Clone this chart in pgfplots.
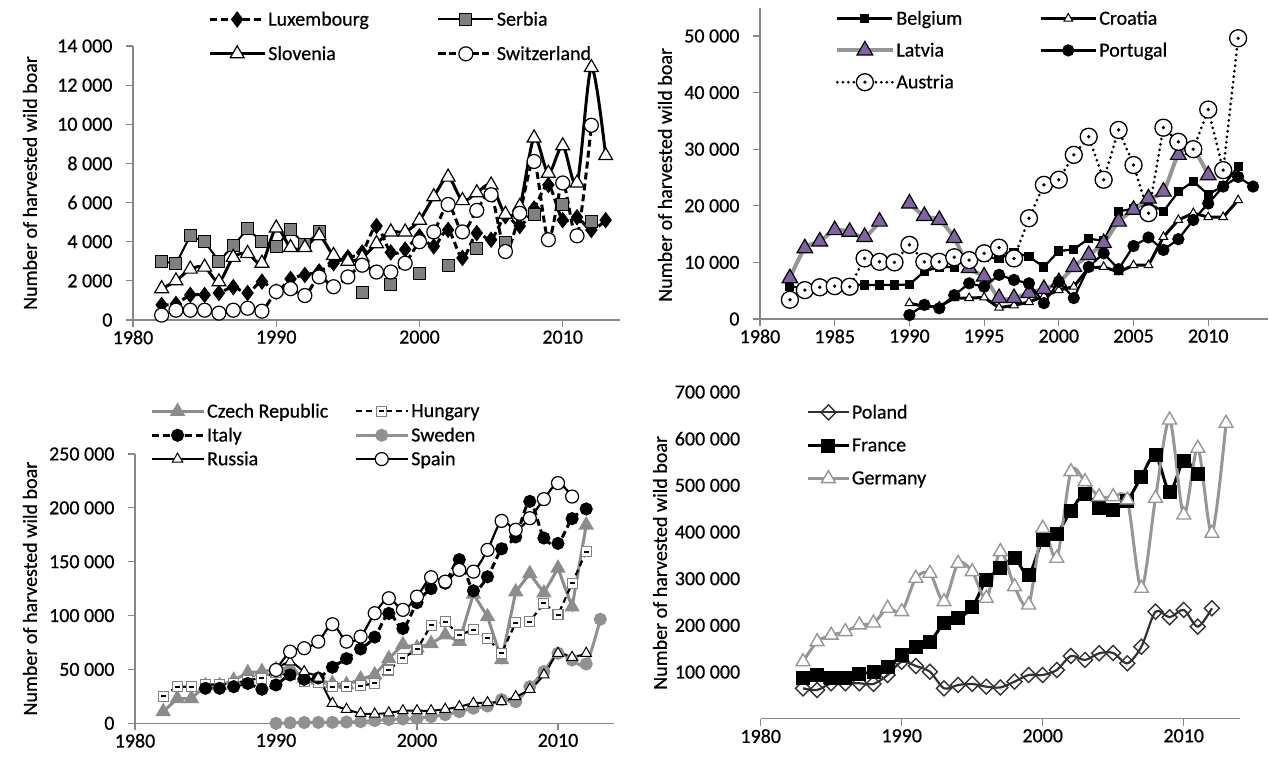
\documentclass[border=0pt]{standalone}
\usepackage{fontspec}
\setmainfont{Carlito}[FakeBold=0.6]
\usepackage{pgfplots}
\pgfplotsset{compat=1.18}

\definecolor{axgray}{RGB}{134,134,134}
\definecolor{sergray}{RGB}{128,128,128}
\definecolor{latgray}{RGB}{150,150,150}
\definecolor{latpurple}{RGB}{128,100,162}
\definecolor{czgray}{RGB}{140,140,140}
\definecolor{swgray}{RGB}{145,145,145}
\definecolor{gegray}{RGB}{150,150,150}
\definecolor{pldark}{RGB}{50,50,50}

\pgfdeclareplotmark{dotcircle}{%
  \pgfpathcircle{\pgfpointorigin}{\pgfplotmarksize}%
  \pgfsetfillcolor{white}\pgfusepathqfillstroke
  \pgfpathcircle{\pgfpointorigin}{0.22\pgfplotmarksize}%
  \pgfsetfillcolor{black}\pgfusepathqfill}
\pgfdeclareplotmark{dotsquare}{%
  \pgfpathrectangle{\pgfqpoint{-\pgfplotmarksize}{-\pgfplotmarksize}}{\pgfqpoint{2\pgfplotmarksize}{2\pgfplotmarksize}}%
  \pgfsetfillcolor{white}\pgfusepathqfillstroke
  \pgfpathrectangle{\pgfqpoint{-0.5\pgfplotmarksize}{-0.2\pgfplotmarksize}}{\pgfqpoint{1\pgfplotmarksize}{0.4\pgfplotmarksize}}%
  \pgfsetfillcolor{black}\pgfusepathqfill}

\pgfplotsset{
  panel/.style={
    scale only axis, anchor=south west, clip=false,
    axis x line=bottom, axis y line=left,
    axis line style={-, draw=axgray, line width=1.3pt},
    tick style={draw=axgray, line width=1.2pt},
    major tick length=7pt, tick align=outside,
    tick label style={font=\fontsize{20}{24}\selectfont, text=black},
    ylabel style={font=\fontsize{20}{24}\selectfont, anchor=center},
    /pgf/number format/assume math mode=true,
    yticklabel style={/pgf/number format/fixed, /pgf/number format/1000 sep={\ }, xshift=-10pt},
    xticklabel style={/pgf/number format/1000 sep={}},
    scaled ticks=false,
    xmin=1980, xmax=2014, ymin=0,
    unbounded coords=jump,
    legend cell align=left,
    legend style={draw=none, fill=none, inner sep=0pt, anchor=north west,
      font=\fontsize{20}{24}\selectfont, nodes={inner sep=2pt}},
    ylabel={Number of harvested wild boar},
  },
  leg/.style={legend image code/.code={\draw[mark repeat=2,mark phase=2,##1] plot coordinates {(0pt,0pt) (#1/2,0pt) (#1,0pt)};}},
}

\begin{document}
\begin{tikzpicture}[x=1pt,y=1pt]
\useasboundingbox (0,0) rectangle (1269,762);

% ---------------- top left ----------------
\begin{axis}[panel, at={(133pt,442pt)}, width=487pt, height=274pt,
  ymax=14000, ytick={0,2000,...,14000}, xtick={1980,1990,2000,2010},
  ylabel style={at={(axis description cs:-0.2115,0.5)}},
  leg=55pt, legend columns=2,
  legend style={at={(axis description cs:0.154,1.133)}, row sep=15pt,
    /tikz/every even column/.append style={column sep=66pt}}]
\addplot[black, line width=3pt, dash pattern=on 7pt off 4pt, smooth, mark=diamond*, mark size=7.5pt,
  mark options={solid, fill=black, line width=1pt}] coordinates {
(1982,770)(1983,820)(1984,1280)(1985,1280)(1986,1380)(1987,1680)(1988,1380)(1989,1960)
(1990,1450)(1991,2100)(1992,2300)(1993,2480)(1994,2900)(1995,3200)(1996,3450)(1997,4800)
(1998,3450)(1999,3600)(2000,4270)(2001,3760)(2002,4600)(2003,3170)(2004,4440)(2005,4100)
(2006,5300)(2007,4800)(2008,5700)(2009,6900)(2010,5100)(2011,5250)(2012,4600)(2013,5100)};
\addlegendentry{Luxembourg}
\addplot[black, line width=2pt, mark=square*, mark size=6pt,
  mark options={fill=sergray, draw=black, line width=1pt}] coordinates {
(1982,3000)(1983,2870)(1984,4300)(1985,4000)(1986,3000)(1987,3800)(1988,4650)(1989,4000)
(1990,3750)(1991,4600)(1992,3850)(1993,4500)(1994,nan)
(1996,1400)(1997,nan)(1998,1800)(1999,nan)(2000,2350)(2001,nan)(2002,2780)(2003,nan)
(2004,3670)(2005,nan)(2006,3950)(2007,nan)(2008,5370)(2009,nan)(2010,5890)(2011,nan)(2012,5030)};
\addlegendentry{Serbia}
\addplot[black, line width=3pt, smooth, mark=triangle*, mark size=8pt,
  mark options={fill=white, line width=1.2pt}] coordinates {
(1982,1600)(1983,2000)(1984,2600)(1985,2700)(1986,1950)(1987,3200)(1988,3400)(1989,2900)
(1990,4700)(1991,3700)(1992,3700)(1993,4300)(1994,3300)(1995,3000)(1996,3200)(1997,3900)
(1998,4500)(1999,4500)(2000,5100)(2001,6300)(2002,7300)(2003,6100)(2004,6500)(2005,6900)
(2006,5400)(2007,5800)(2008,9300)(2009,7500)(2010,8900)(2011,7000)(2012,12900)(2013,8400)};
\addlegendentry{Slovenia}
\addplot[black, line width=3pt, dash pattern=on 7pt off 4pt, smooth, mark=*, mark size=7pt,
  mark options={solid, fill=white, line width=1.2pt}] coordinates {
(1982,250)(1983,500)(1984,500)(1985,500)(1986,350)(1987,500)(1988,600)(1989,450)
(1990,1450)(1991,1600)(1992,1250)(1993,2200)(1994,1700)(1995,2200)(1996,2800)(1997,2450)
(1998,2450)(1999,2900)(2000,4000)(2001,4500)(2002,5900)(2003,4500)(2004,5600)(2005,6400)
(2006,3500)(2007,5450)(2008,8100)(2009,4100)(2010,7000)(2011,4300)(2012,9950)};
\addlegendentry{Switzerland}
\end{axis}

% ---------------- top right ----------------
\begin{axis}[panel, at={(760pt,443pt)}, width=508pt, height=311.3pt,
  ymax=55000, ytick={0,10000,...,50000}, xtick={1980,1985,...,2010},
  ylabel style={at={(axis description cs:-0.187,0.463)}},
  leg=55pt, legend columns=2,
  legend style={at={(axis description cs:0.148,0.997)}, row sep=12.5pt,
    /tikz/every even column/.append style={column sep=75pt}}]
\addplot[black, line width=2.2pt, mark=square*, mark size=3.5pt] coordinates {
(1982,5800)(1983,5400)(1984,5800)(1985,6300)(1986,6100)(1987,6000)(1988,6000)(1989,6000)
(1990,6100)(1991,8400)(1992,9200)(1993,9200)(1994,11000)(1995,10900)(1996,10700)(1997,11800)
(1998,11000)(1999,9200)(2000,12000)(2001,12300)(2002,14200)(2003,13800)(2004,19000)(2005,19500)
(2006,20500)(2007,19000)(2008,22500)(2009,24300)(2010,22000)(2011,23500)(2012,27000)};
\addlegendentry{Belgium}
\addplot[black, line width=3pt, mark=triangle*, mark size=5pt,
  mark options={fill=white, line width=1pt}] coordinates {
(1990,2800)(1991,2200)(1992,2200)(1993,3700)(1994,3700)(1995,3800)(1996,2000)(1997,2400)
(1998,3000)(1999,4000)(2000,5100)(2001,5700)(2002,9000)(2003,9200)(2004,8300)(2005,9500)
(2006,9500)(2007,14500)(2008,17500)(2009,18700)(2010,18000)(2011,18000)(2012,21000)};
\addlegendentry{Croatia}
\addplot[latgray, line width=4pt, smooth, mark=triangle*, mark size=9pt,
  mark options={fill=latpurple, draw=black, line width=1.2pt}] coordinates {
(1982,7200)(1983,12500)(1984,13700)(1985,15700)(1986,15400)(1987,14500)(1988,17200)(1989,nan)
(1990,20400)(1991,18200)(1992,17500)(1993,14300)(1994,9000)(1995,7500)(1996,3700)(1997,3700)
(1998,4600)(1999,5300)(2000,6500)(2001,9200)(2002,11300)(2003,13400)(2004,17200)(2005,19300)
(2006,21300)(2007,22500)(2008,29000)(2009,29900)(2010,25400)};
\addlegendentry{Latvia}
\addplot[black, line width=2.2pt, mark=*, mark size=5pt] coordinates {
(1990,700)(1991,2500)(1992,1900)(1993,4200)(1994,6300)(1995,5700)(1996,7800)(1997,6900)
(1998,6300)(1999,2800)(2000,6600)(2001,3700)(2002,9200)(2003,11600)(2004,8800)(2005,12900)
(2006,14400)(2007,12200)(2008,14100)(2009,17500)(2010,20400)(2011,23400)(2012,25100)(2013,23400)};
\addlegendentry{Portugal}
\addplot[black, line width=3pt, dash pattern=on 0pt off 5.5pt, line cap=round, mark=dotcircle, mark size=8.5pt,
  mark options={solid, line width=1.3pt}] coordinates {
(1982,3400)(1983,5100)(1984,5600)(1985,5800)(1986,5700)(1987,10700)(1988,10100)(1989,10000)
(1990,13100)(1991,10100)(1992,10100)(1993,10900)(1994,10400)(1995,11600)(1996,12600)(1997,10700)
(1998,17800)(1999,23700)(2000,24600)(2001,29000)(2002,32200)(2003,24600)(2004,33400)(2005,27200)
(2006,18700)(2007,33800)(2008,31300)(2009,30000)(2010,37000)(2011,26300)(2012,49600)};
\addlegendentry{Austria}
\end{axis}

% ---------------- bottom left ----------------
\begin{axis}[panel, at={(135pt,38.7pt)}, width=479.4pt, height=269.3pt,
  ymax=250000, ytick={0,50000,...,250000}, xtick={1980,1990,2000,2010},
  ylabel style={at={(axis description cs:-0.219,0.5)}},
  leg=52pt, legend columns=2,
  legend style={at={(axis description cs:0.031,1.195)}, row sep=4.5pt,
    /tikz/every even column/.append style={column sep=24pt}}]
\addplot[czgray, line width=3pt, mark=triangle*, mark size=6pt,
  mark options={fill=czgray, draw=czgray}] coordinates {
(1982,10800)(1983,23000)(1984,23000)(1985,35000)(1986,35000)(1987,40000)(1988,47000)(1989,48000)
(1990,50000)(1991,52000)(1992,42000)(1993,40000)(1994,37000)(1995,36000)(1996,41000)(1997,45000)
(1998,60000)(1999,73000)(2000,70000)(2001,74000)(2002,82000)(2003,76000)(2004,120000)(2005,99000)
(2006,59000)(2007,122000)(2008,139000)(2009,121000)(2010,144000)(2011,108000)(2012,184000)};
\addlegendentry{Czech Republic}
\addplot[black, line width=2.2pt, dash pattern=on 6pt off 4pt, mark=dotsquare, mark size=5pt,
  mark options={solid, draw=sergray, line width=1.1pt}] coordinates {
(1982,25000)(1983,34000)(1984,34000)(1985,36000)(1986,36000)(1987,37000)(1988,40000)(1989,42000)
(1990,47000)(1991,45000)(1992,39000)(1993,38000)(1994,34000)(1995,34000)(1996,35000)(1997,37000)
(1998,49500)(1999,60400)(2000,68700)(2001,91000)(2002,94400)(2003,82000)(2004,86700)(2005,79000)
(2006,65000)(2007,93500)(2008,94400)(2009,111500)(2010,100600)(2011,130000)(2012,159400)};
\addlegendentry{Hungary}
\addplot[black, line width=3pt, dash pattern=on 7pt off 4pt, smooth, mark=*, mark size=5pt,
  mark options={solid}] coordinates {
(1985,32500)(1986,32500)(1987,34000)(1988,37000)(1989,31600)(1990,35600)(1991,44900)(1992,40900)
(1993,42000)(1994,52000)(1995,60000)(1996,69000)(1997,80000)(1998,102000)(1999,88000)(2000,112000)
(2001,125000)(2002,130000)(2003,152000)(2004,123000)(2005,136000)(2006,162000)(2007,173000)
(2008,206000)(2009,172000)(2010,167000)(2011,190000)(2012,199000)};
\addlegendentry{Italy}
\addplot[swgray, line width=3pt, smooth, mark=*, mark size=5pt,
  mark options={fill=swgray, draw=swgray}] coordinates {
(1990,0)(1991,400)(1992,700)(1993,800)(1994,900)(1995,1200)(1996,1500)(1997,2500)
(1998,3500)(1999,4000)(2000,4500)(2001,6200)(2002,8000)(2003,10800)(2004,14000)(2005,16000)
(2006,22000)(2007,20000)(2008,34000)(2009,48000)(2010,65000)(2011,58800)(2012,55100)(2013,96600)};
\addlegendentry{Sweden}
\addplot[black, line width=2pt, smooth, mark=triangle*, mark size=6pt,
  mark options={fill=white, line width=1pt}] coordinates {
(1990,50000)(1991,57000)(1992,48000)(1993,42000)(1994,18600)(1995,13000)(1996,9300)(1997,8600)
(1998,9700)(1999,11700)(2000,11700)(2001,11700)(2002,13000)(2003,15400)(2004,18600)(2005,19200)
(2006,20100)(2007,24700)(2008,31600)(2009,44900)(2010,65000)(2011,61300)(2012,65000)};
\addlegendentry{Russia}
\addplot[black, line width=2.2pt, smooth, mark=*, mark size=6.5pt,
  mark options={fill=white, line width=1.2pt}] coordinates {
(1990,49500)(1991,66500)(1992,69700)(1993,75800)(1994,92000)(1995,75800)(1996,80500)(1997,102200)
(1998,116100)(1999,105300)(2000,117600)(2001,135600)(2002,131500)(2003,142400)(2004,140800)
(2005,161000)(2006,187900)(2007,179600)(2008,190400)(2009,208100)(2010,223000)(2011,210500)};
\addlegendentry{Spain}
\end{axis}

% ---------------- bottom right ----------------
\begin{axis}[panel, at={(760.7pt,43.3pt)}, width=479.4pt, height=326.7pt,
  ymax=700000, ytick={100000,200000,...,700000}, xtick={1980,1990,2000,2010},
  y axis line style={draw=none}, ytick style={draw=none},
  ylabel style={at={(axis description cs:-0.21,0.477)}},
  leg=40pt, legend columns=1,
  legend style={at={(axis description cs:0.096,0.968)}, row sep=14.5pt}]
\addplot[pldark, line width=2.2pt, smooth, mark=square, mark size=5.3pt,
  mark options={rotate=45, line width=1.4pt}] coordinates {
(1983,65100)(1984,61500)(1985,75900)(1986,75900)(1987,75900)(1988,74500)(1989,93600)(1990,122000)
(1991,112900)(1992,100700)(1993,65100)(1994,72200)(1995,74500)(1996,68600)(1997,67000)(1998,79300)
(1999,93600)(2000,93600)(2001,104400)(2002,134400)(2003,125800)(2004,140100)(2005,140800)
(2006,118700)(2007,154300)(2008,229300)(2009,217300)(2010,233000)(2011,197200)(2012,236600)};
\addlegendentry{Poland}
\addplot[black, line width=3pt, smooth, mark=square*, mark size=5.5pt] coordinates {
(1983,86600)(1984,93600)(1985,87900)(1986,87900)(1987,95800)(1988,100700)(1989,110100)(1990,136500)
(1991,154300)(1992,165000)(1993,204400)(1994,215100)(1995,238700)(1996,297200)(1997,322300)
(1998,343700)(1999,308000)(2000,383000)(2001,395800)(2002,445800)(2003,481500)(2004,452000)
(2005,448000)(2006,467200)(2007,518600)(2008,565100)(2009,486500)(2010,552300)(2011,524400)};
\addlegendentry{France}
\addplot[gegray, line width=3pt, smooth, mark=triangle*, mark size=8pt,
  mark options={fill=white, draw=gegray, line width=1.4pt}] coordinates {
(1983,122000)(1984,165000)(1985,179000)(1986,186500)(1987,201000)(1988,205000)(1989,236600)
(1990,229300)(1991,301000)(1992,311600)(1993,250700)(1994,333000)(1995,315000)(1996,258000)
(1997,358000)(1998,283000)(1999,243700)(2000,408000)(2001,343700)(2002,529300)(2003,508000)
(2004,475700)(2005,475700)(2006,468700)(2007,279400)(2008,472300)(2009,640100)(2010,436500)
(2011,579400)(2012,397300)(2013,633000)};
\addlegendentry{Germany}
\end{axis}
\end{tikzpicture}
\end{document}
